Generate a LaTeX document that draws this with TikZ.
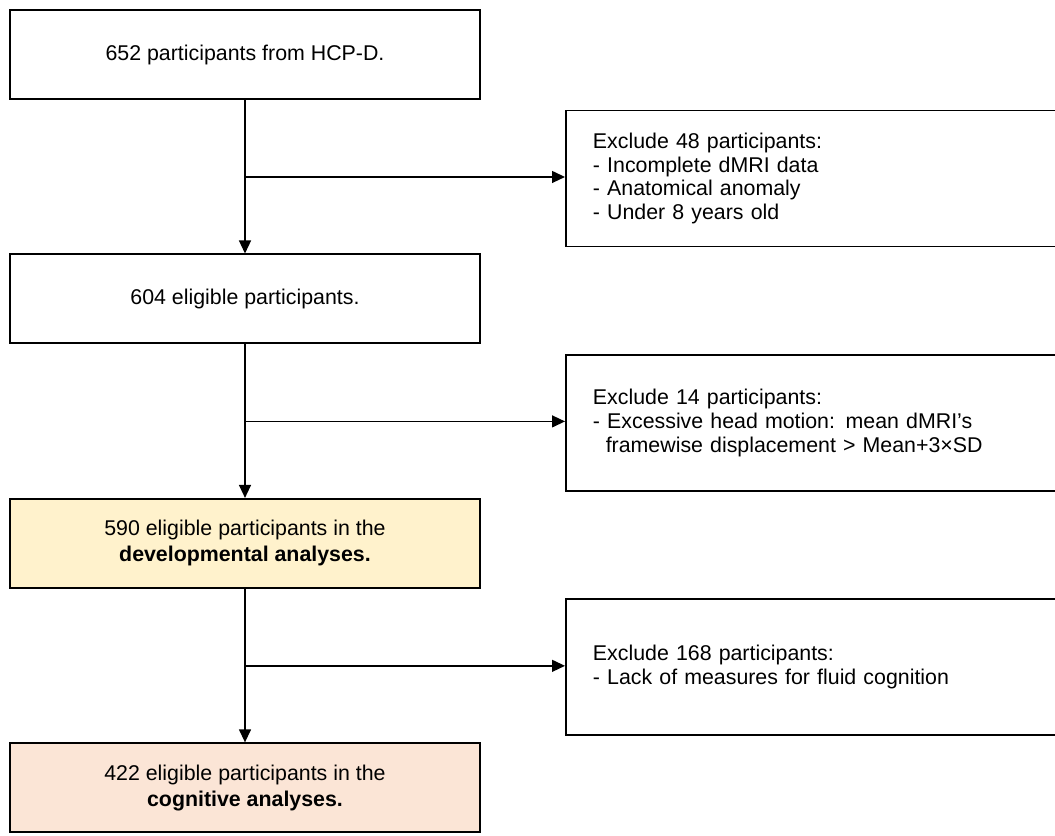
\documentclass[tikz,border=0pt]{standalone}
\usepackage{fontspec}
\setmainfont{Liberation Sans}
\usetikzlibrary{arrows.meta,positioning}
\definecolor{devyellow}{HTML}{FFF2CC}
\definecolor{cogpeach}{HTML}{FBE5D6}
\tikzset{
    flowbox/.style={draw, line width=1.1pt, align=center, font=\fontsize{12.15}{14.7}\selectfont, minimum width=9.4cm, minimum height=1.78cm},
    cohortnode/.style={flowbox, fill=white},
    devnode/.style={flowbox, fill=devyellow},
    cognode/.style={flowbox, fill=cogpeach},
    excludenode/.style={draw, line width=1.1pt, align=left, font=\fontsize{12.15}{13.6}\selectfont, text width=8.9cm, inner xsep=0.54cm, minimum height=2.72cm},
    flowarrow/.style={-{Triangle[width=0.24cm,length=0.26cm]}, line width=0.75pt}
}

\begin{document}
\begin{tikzpicture}[node distance=3.07cm]
        \useasboundingbox (0,0) rectangle (21.1,-16.7);
        \node[cohortnode] (all) at (4.9,-1.09) {652 participants from HCP-D.};
        \node[cohortnode, below=of all] (elig) {604 eligible participants.};
        \node[devnode, below=of elig] (dev) {590 eligible participants in the\\\textbf{developmental analyses.}};
        \node[cognode, below=of dev] (cog) {422 eligible participants in the\\\textbf{cognitive analyses.}};

        \coordinate[below=1.54cm of all.south] (split1);
        \coordinate[below=1.54cm of elig.south] (split2);
        \coordinate[below=1.54cm of dev.south] (split3);

        \node[excludenode, right=6.4cm of split1, yshift=-0.03cm] (ex1) {Exclude 48 participants:\\- Incomplete dMRI data\\- Anatomical anomaly\\- Under 8 years old};
        \node[excludenode, right=6.4cm of split2, yshift=-0.03cm] (ex2) {Exclude 14 participants:\\- Excessive head motion: mean dMRI’s\\\hspace*{0.6em}framewise displacement > Mean+3×SD};
        \node[excludenode, right=6.4cm of split3, yshift=-0.03cm] (ex3) {Exclude 168 participants:\\- Lack of measures for fluid cognition};

        \draw[flowarrow] (all) -- (elig);
        \draw[flowarrow] (elig) -- (dev);
        \draw[flowarrow] (dev) -- (cog);
        \draw[flowarrow] (split1) -- (split1 -| ex1.west);
        \draw[flowarrow] (split2) -- (split2 -| ex2.west);
        \draw[flowarrow] (split3) -- (split3 -| ex3.west);
    \end{tikzpicture}
\end{document}
